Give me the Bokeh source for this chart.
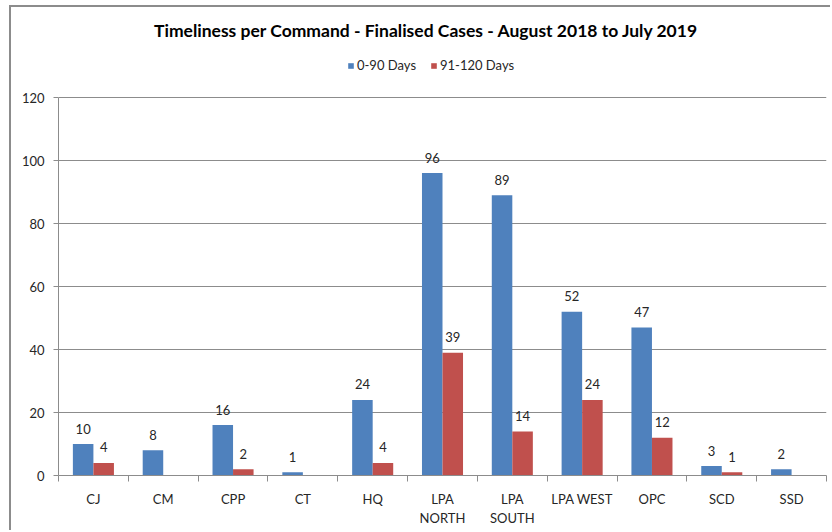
from bokeh.plotting import figure
from bokeh.models import (Range1d, FixedTicker, Legend, LegendItem, Label,
                          ColumnDataSource)
from bokeh.core.properties import value
from bokeh.embed import file_html
from bokeh.resources import INLINE

categories = ["CJ", "CM", "CPP", "CT", "HQ", "LPA\nNORTH", "LPA\nSOUTH",
              "LPA WEST", "OPC", "SCD", "SSD"]
days_0_90 = [10, 8, 16, 1, 24, 96, 89, 52, 47, 3, 2]
days_91_120 = [4, None, 2, None, 4, 39, 14, 24, 12, 1, None]
series_names = ["0-90 Days", "91-120 Days"]
colors = ["#4F81BD", "#C0504D"]
y_ticks = [0, 20, 40, 60, 80, 100, 120]
title_text = "Timeliness per Command - Finalised Cases - August 2018 to July 2019"

FONT = "Lato"
GRAY = "#8c8c8c"
W, H = 821, 525
# frame spans to the top of the canvas; axis 0..120 occupies the lower 378 px
y_top = 120 * 468 / 378
p = figure(width=W, height=H, output_backend="svg", toolbar_location=None,
           x_range=Range1d(0, len(categories)), y_range=Range1d(0, y_top),
           min_border_left=47, min_border_right=6, min_border_top=0,
           min_border_bottom=57)
p.title = None
p.outline_line_color = None
p.xgrid.grid_line_color = None
p.ygrid.grid_line_color = GRAY
p.ygrid.grid_line_width = 1
p.ygrid.ticker = FixedTicker(ticks=y_ticks)
p.styles = {"margin-left": "9px", "margin-top": "5px",
            "border-left": f"2px solid {GRAY}", "border-top": f"2px solid {GRAY}"}

bw = 0.294
offsets = [-bw / 2, bw / 2]
renderers = []
for s, (vals, col) in enumerate(zip([days_0_90, days_91_120], colors)):
    xs, ys = [], []
    for i, v in enumerate(vals):
        if v is None:
            continue
        xs.append(i + 0.5 + offsets[s])
        ys.append(v)
    src = ColumnDataSource(dict(x=xs, top=ys, lab=[str(v) for v in ys]))
    r = p.vbar(x="x", top="top", bottom=0, width=bw, source=src,
               fill_color=col, line_color=None)
    renderers.append(r)
    p.text(x="x", y="top", text="lab", source=src, text_align="center",
           text_baseline="bottom", y_offset=-10.5, text_font=value(FONT),
           text_font_size="13px", text_color="#262626")

# y axis
ya = p.yaxis[0]
ya.ticker = FixedTicker(ticks=y_ticks)
ya.bounds = (0, 120)
ya.axis_line_color = GRAY
ya.major_tick_line_color = GRAY
ya.major_tick_out = 5
ya.major_tick_in = 0
ya.minor_tick_line_color = None
ya.major_label_text_font = FONT
ya.major_label_text_font_size = "13px"
ya.major_label_text_color = "#262626"
ya.major_label_standoff = 9

# x axis
xa = p.xaxis[0]
xa.ticker = FixedTicker(ticks=[i + 0.5 for i in range(len(categories))],
                        minor_ticks=list(range(len(categories) + 1)))
xa.major_label_overrides = {i + 0.5: c for i, c in enumerate(categories)}
xa.axis_line_color = GRAY
xa.major_tick_line_color = None
xa.minor_tick_line_color = GRAY
xa.minor_tick_out = 6
xa.minor_tick_in = 0
xa.major_label_text_font = FONT
xa.major_label_text_font_size = "13px"
xa.major_label_text_color = "#262626"
xa.major_label_standoff = 9

legend = Legend(items=[LegendItem(label=series_names[k], renderers=[renderers[k]])
                       for k in range(2)],
                orientation="horizontal", location=(289, 402),
                padding=0, margin=0, spacing=14, label_standoff=3,
                glyph_width=7, glyph_height=7, label_height=14,
                label_text_font=FONT, label_text_font_size="13px",
                label_text_color="#262626", background_fill_alpha=0,
                border_line_color=None)
p.add_layout(legend, "center")

title = Label(x=368, y=445, x_units="screen", y_units="screen", text=title_text,
              text_font=FONT, text_font_style="bold", text_font_size="17.5px",
              text_align="center", text_baseline="middle", text_color="#000000")
p.add_layout(title)

open("out.html", "w").write(file_html(p, INLINE))
